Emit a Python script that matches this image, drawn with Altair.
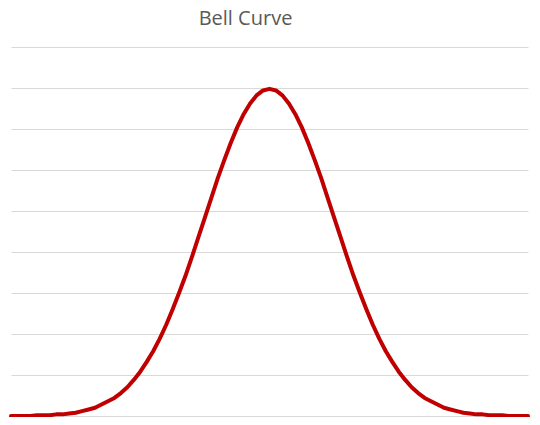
import altair as alt
import pandas as pd

# values, x from -4 to 4 in steps of 0.1
x_vals = [round(-4 + i * 0.1, 1) for i in range(81)]
right_half = [0.399, 0.397, 0.391, 0.381, 0.368, 0.352, 0.333, 0.312, 0.290, 0.266,
              0.242, 0.218, 0.194, 0.171, 0.150, 0.130, 0.111, 0.094, 0.079, 0.066,
              0.054, 0.044, 0.035, 0.028, 0.022, 0.018, 0.014, 0.010, 0.008, 0.006,
              0.004, 0.003, 0.002, 0.002, 0.001, 0.001, 0.001, 0.000, 0.000, 0.000, 0.000]
y_vals = right_half[::-1] + right_half[1:]
grid_values = [0, 0.05, 0.10, 0.15, 0.20, 0.25, 0.30, 0.35, 0.40, 0.45]

df = pd.DataFrame({"x": x_vals, "y": y_vals})

chart = alt.Chart(df).mark_line(color="#C00000", strokeWidth=4, strokeJoin="round", strokeCap="round").encode(
    x=alt.X("x:Q", scale=alt.Scale(domain=[-4, 4], nice=False, zero=False),
            axis=alt.Axis(title=None, labels=False, ticks=False, domain=False, grid=False)),
    y=alt.Y("y:Q", scale=alt.Scale(domain=[0, 0.45], nice=False),
            axis=alt.Axis(title=None, labels=False, ticks=False, domain=False, grid=True,
                          values=grid_values, gridColor="#d9d9d9", gridWidth=1)),
).properties(
    width=517, height=369,
    title=alt.TitleParams("Bell Curve", fontSize=20, font="Open Sans", fontWeight="normal",
                          color="#595959", anchor="middle", offset=18, dx=-24),
    autosize=alt.AutoSizeParams(type="none"),
    padding={"left": 3, "top": 39, "right": 4, "bottom": 1},
).configure_view(stroke=None)

chart.save("out.html", embed_options={"renderer": "svg", "actions": False})
